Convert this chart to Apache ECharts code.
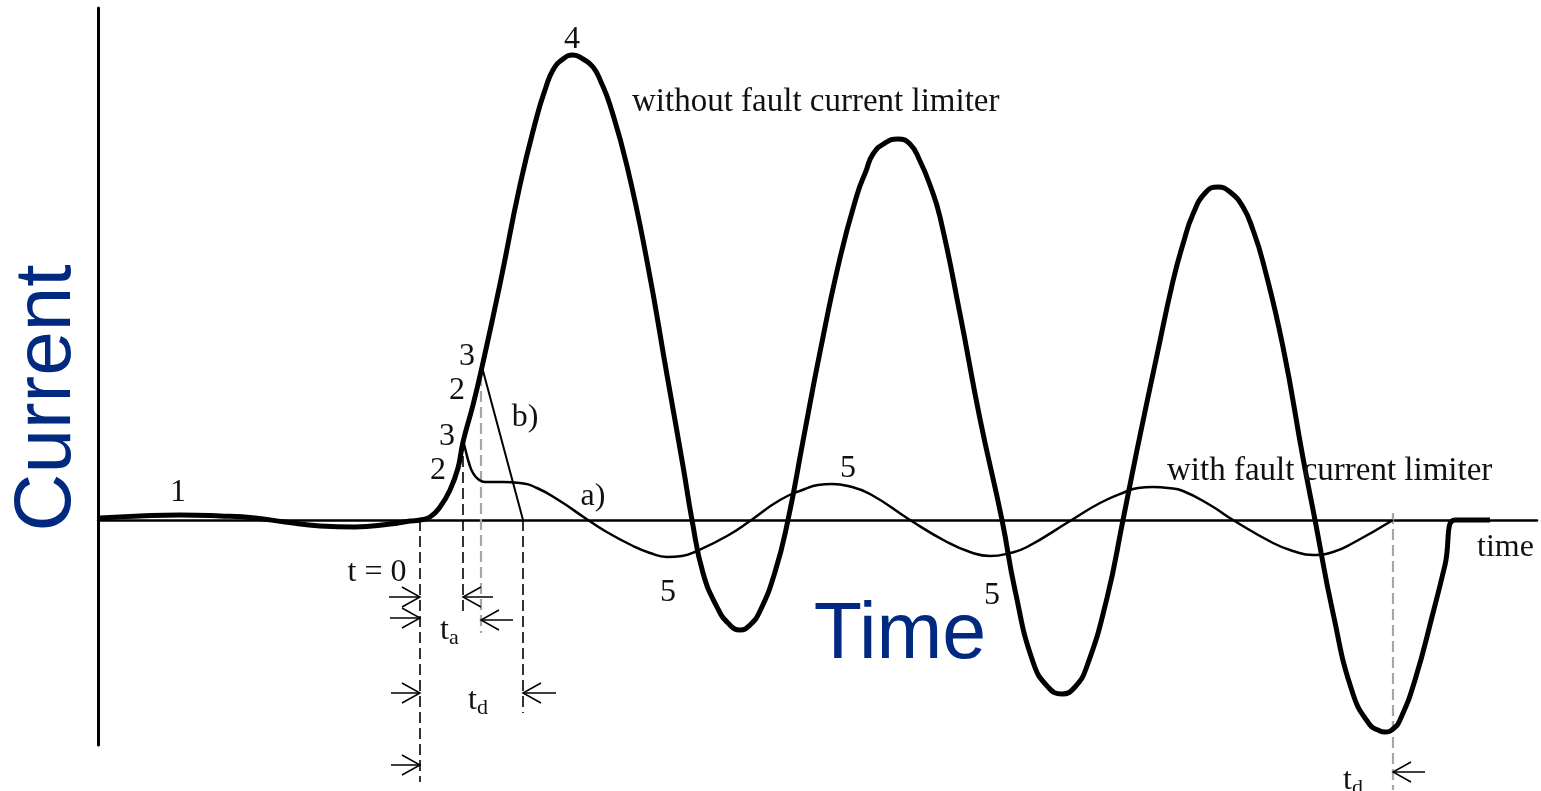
<!DOCTYPE html>
<html><head><meta charset="utf-8">
<script src="https://cdn.jsdelivr.net/npm/echarts@6/dist/echarts.min.js"></script>
<style>html,body{margin:0;padding:0;background:#fff}#c{width:1541px;height:791px}</style>
</head><body><div id="c"></div>
<script>
// time in arbitrary units (t = 0 at fault inception), current in arbitrary units
const noLimiterT = [-320,-280,-240,-200,-165,-135,-100,-65,-30,-10,0,10,20,30,38,43,53,62,80,100,117,125,133,143,153,163,173,181,190,207,227,247,263,272,283,297,308,320,330,340,355,368,383,400,420,437,446,453,465,478,490,500,510,520,540,560,582,595,613,628,642,655,667,687,703,717,737,753,763,773,786,798,810,823,833,843,863,883,895,913,933,950,958,965,973,980,995,1013,1025,1035,1070];
const noLimiterI = [2,4,5,4,2,-2,-6,-7,-4,-1,0,3,13,30,52,78,115,153,236,335,404,430,450,461,465,461,453,438,415,354,259,145,54,0,-53,-87,-103,-110,-105,-91,-52,0,79,168,262,325,349,366,377,381,376,359,335,303,206,101,0,-70,-142,-167,-174,-167,-146,-78,0,70,165,239,276,306,328,333,328,313,290,258,173,62,0,-93,-174,-205,-210,-212,-209,-200,-160,-93,-45,0,0];

const withLimiterT = [43,46,49,53,58,65,83,100,117,140,165,185,213,230,247,262,277,307,330,360,385,398,412,428,450,490,527,550,570,590,607,650,680,705,718,733,748,763,790,813,853,873,893,913,933,973];
const withLimiterI = [80,68,57,47,41,38,38,37,32,19,2,-11,-26,-33,-37,-36,-31,-16,-1,20,31,35,36,34,26,0,-22,-32,-36,-33,-27,-1,17,28,32,33,32,29,15,0,-23,-31,-35,-32,-23,0];

const curveBT = [62,99,103];
const curveBI = [153,15,0];

const dashT = [0,43,61,103,973];
const dashTop = [0,80,145,0,7];
const dashBottom = [-262,-92,-113,-193,-270];
const dashGrey = [false,false,true,false,true];

const arrowTipT = [0,0,43,61,0,103,0,973];
const arrowTailT = [-31,-30,73,93,-29,136,-29,1005];
const arrowI = [-77,-98,-77,-100,-173,-173,-245,-252];

const labelText = ['1','2','3','2','3','4','b)','a)','5','5','5','t = 0','without fault current limiter','with fault current limiter','time','t','t','t'];
const labelSub  = ['','','','','','','','','','','','','','','','a','d','d'];
const labelT = [-242,18,27,37,47,152,105,173,248,428,572,-43,212,747,1057,20,48,923];
const labelI = [27,49,83,129,163,480,102,23,-73,51,-76,-53,418,49,-28,-111,-181,-261];

const zip = (a,b) => a.map((v,i)=>[v,b[i]]);
const chart = echarts.init(document.getElementById('c'));
const serif = 'Liberation Serif, Times New Roman, serif';

const series = [
  {type:'line', data: zip(noLimiterT,noLimiterI), showSymbol:false, smooth:0.5, z:5,
   lineStyle:{color:'#000', width:5}},
  {type:'line', data: zip(withLimiterT,withLimiterI), showSymbol:false, smooth:0.5, z:4,
   lineStyle:{color:'#000', width:2.5}},
  {type:'line', data: zip(curveBT,curveBI), showSymbol:false, smooth:false, z:4,
   lineStyle:{color:'#000', width:2}}
];
dashT.forEach((t,i)=>{
  series.push({type:'line', data:[[t,dashTop[i]],[t,dashBottom[i]]], showSymbol:false, z:3, clip:false,
    lineStyle:{color: dashGrey[i] ? '#a6a6a6' : '#000', width: dashGrey[i] ? 2.2 : 1.6, type:[11,5]}});
});
series.push({
  type:'custom', z:6, clip:false,
  data: arrowTipT.map((t,i)=>[t, arrowTailT[i], arrowI[i]]),
  encode:{x:[0,1], y:2},
  renderItem: function(params, api){
    const tip = api.coord([api.value(0), api.value(2)]);
    const tail = api.coord([api.value(1), api.value(2)]);
    const d = tip[0] > tail[0] ? 1 : -1;
    const st = {stroke:'#000', lineWidth:1.5, fill:null};
    return {type:'group', children:[
      {type:'polyline', shape:{points:[tail, tip]}, style:st},
      {type:'polyline', shape:{points:[[tip[0]-d*18, tip[1]-10], tip, [tip[0]-d*18, tip[1]+10]]}, style:st}
    ]};
  }
});
series.push({
  type:'custom', z:7, clip:false,
  data: labelT.map((t,i)=>[t, labelI[i], i]),
  encode:{x:0, y:1},
  renderItem: function(params, api){
    const i = api.value(2);
    const p = api.coord([api.value(0), api.value(1)]);
    const left = i >= 12;
    const size = (i>=12 && i<=13) ? 33 : 32;
    const children = [{type:'text', x:p[0], y:p[1], style:{text:labelText[i], fill:'#111', fontSize:size, fontFamily:serif, align:left?'left':'center', verticalAlign:'middle'}}];
    if (labelSub[i]) {
      children.push({type:'text', x:p[0]+9, y:p[1]+7, style:{text:labelSub[i], fill:'#111', fontSize:22, fontFamily:serif, align:'left', verticalAlign:'middle'}});
    }
    return {type:'group', children};
  }
});

chart.setOption({
  animation:false,
  backgroundColor:'#fff',
  grid:{left:98, right:4, top:8, bottom:46},
  xAxis:{type:'value', min:-322, max:1117, axisLine:{show:true, onZero:true, lineStyle:{color:'#000', width:2.5}},
    axisTick:{show:false}, axisLabel:{show:false}, splitLine:{show:false}},
  yAxis:{type:'value', min:-225, max:512, axisLine:{show:true, onZero:false, lineStyle:{color:'#000', width:3}},
    axisTick:{show:false}, axisLabel:{show:false}, splitLine:{show:false}},
  graphic:[
    {type:'text', x:48, y:398, rotation:Math.PI/2, z:10,
     style:{text:'Current', fontSize:80, fontFamily:'Liberation Sans, Arial, sans-serif', fill:'#00297f', align:'center', verticalAlign:'middle'}},
    {type:'text', x:900, y:636, z:10,
     style:{text:'Time', fontSize:79, fontFamily:'Liberation Sans, Arial, sans-serif', fill:'#00297f', align:'center', verticalAlign:'middle'}}
  ],
  series
});
</script>
</body></html>
